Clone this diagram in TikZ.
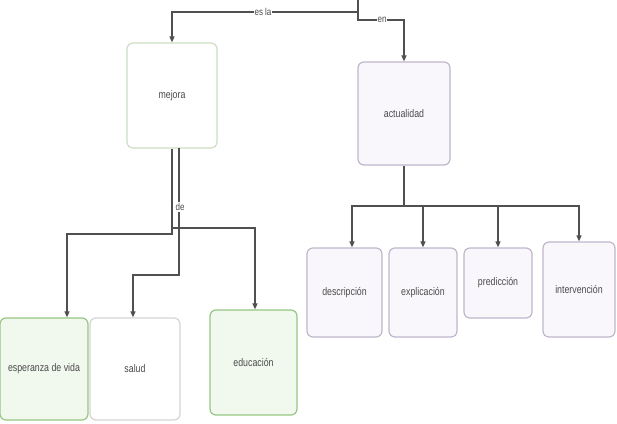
\documentclass[tikz,border=0pt]{standalone}
\usepackage{fontspec}
\setmainfont{Liberation Sans}[FakeStretch=0.8]
\usetikzlibrary{arrows.meta}
\definecolor{gborder}{RGB}{150,198,130}
\definecolor{gfill}{RGB}{241,248,237}
\definecolor{lgborder}{RGB}{205,222,195}
\definecolor{pborder}{RGB}{192,182,204}
\definecolor{pfill}{RGB}{249,247,251}
\definecolor{sborder}{RGB}{212,212,212}
\definecolor{lineg}{RGB}{80,80,80}
\definecolor{txt}{RGB}{75,75,75}
\tikzset{
  box/.style={draw, line width=1.2pt, rounded corners=6pt, inner sep=0pt, text=txt,
    font=\fontsize{11}{12}\selectfont},
  gbox/.style={box, draw=gborder, fill=gfill},
  mbox/.style={box, draw=lgborder, fill=white},
  sbox/.style={box, draw=sborder, fill=white},
  pbox/.style={box, draw=pborder, fill=pfill},
  conn/.style={draw=lineg, line width=1.3pt, -{Triangle[length=6pt,width=5pt]}},
  plain/.style={draw=lineg, line width=1.3pt},
  lbl/.style={fill=white, inner sep=1pt, text=txt, font=\fontsize{10}{11}\selectfont}
}
\begin{document}
\begin{tikzpicture}[x=1pt,y=-1pt]
\useasboundingbox (0,0) rectangle (617,423);
% boxes
\node[mbox, minimum width=90pt, minimum height=105pt] (mejora) at (172,95.5) {mejora};
\node[pbox, minimum width=92pt, minimum height=103pt] (actualidad) at (404,113.5) {actualidad};
\node[gbox, minimum width=88pt, minimum height=102pt] (esperanza) at (44,369) {esperanza de vida};
\node[sbox, minimum width=90pt, minimum height=102pt] (salud) at (135,369) {salud};
\node[gbox, minimum width=87pt, minimum height=105pt] (educacion) at (253.5,362.5) {educación};
\node[pbox, minimum width=75pt, minimum height=89pt] (descripcion) at (344.5,292.5) {descripción};
\node[pbox, minimum width=68pt, minimum height=89pt] (explicacion) at (423,292.5) {explicación};
\node[pbox, minimum width=68pt, minimum height=70pt] (prediccion) at (498,283) {predicción};
\node[pbox, minimum width=72pt, minimum height=95pt] (intervencion) at (579,289.5) {intervención};
% top connectors
\coordinate (top) at (358,0);
\coordinate (j1) at (358,12);
\coordinate (j2) at (358,20);
\draw[conn] (top) -- (j1) -| (mejora.north);
\draw[conn] (j1) -- (j2) -| (actualidad.north);
\node[lbl] (esla) at (263,12) {es la};
\node[lbl] (en) at (382,20) {en};
% mejora connectors
\coordinate (m1) at (172,234);
\coordinate (m2) at (179,148);
\coordinate (m3) at (179,275);
\coordinate (m4) at (172,228);
\draw[conn] (mejora.south) -- (m1) -| ([xshift=23pt]esperanza.north);
\draw[conn] (m2) -- (m3) -| ([xshift=-2pt]salud.north);
\draw[conn] (m4) -| ([xshift=1.5pt]educacion.north);
\node[lbl] (de) at (180,207) {de};
% actualidad connectors
\coordinate (a1) at (404,206);
\draw[plain] (actualidad.south) -- (a1);
\draw[conn] (a1) -| ([xshift=7.5pt]descripcion.north);
\draw[conn] (a1) -| (explicacion.north);
\draw[conn] (a1) -| (prediccion.north);
\draw[conn] (a1) -| (intervencion.north);
\end{tikzpicture}
\end{document}
